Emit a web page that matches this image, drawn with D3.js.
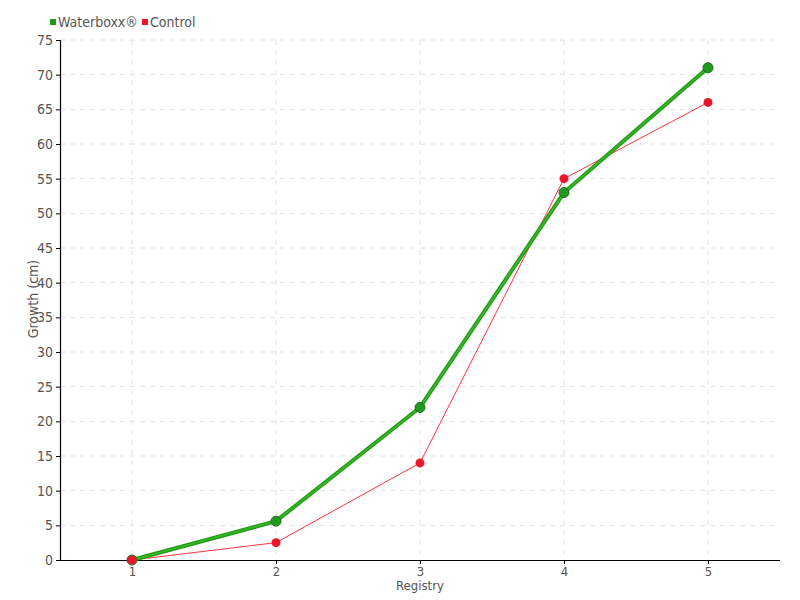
<!DOCTYPE html>
<html><head><meta charset="utf-8">
<script src="https://cdn.jsdelivr.net/npm/d3@7"></script>
<style>body{margin:0;background:#fff}svg text{font-family:"DejaVu Sans Condensed","Liberation Sans Narrow",sans-serif;fill:#555}</style>
</head><body><svg id="c" width="800" height="600"></svg>
<script>
const registry = [1, 2, 3, 4, 5];
const waterboxx = [0, 5.6, 22, 53, 71];
const control = [0, 2.5, 14, 55, 66];
const yTicks = d3.range(0, 80, 5);

const svg = d3.select("#c");
const m = {l: 60, r: 780, t: 40, b: 560};
const x = d3.scaleLinear().domain([0.5, 5.5]).range([m.l, m.r]);
const y = d3.scaleLinear().domain([0, 75]).range([m.b, m.t]);

const g = svg.append("g");
g.selectAll(".hg").data(yTicks.filter(d => d > 0)).enter().append("line")
  .attr("x1", m.l).attr("x2", m.r).attr("y1", d => y(d)).attr("y2", d => y(d))
  .attr("stroke", "#e2e2e2").attr("stroke-dasharray", "5,5");
g.selectAll(".vg").data(registry).enter().append("line")
  .attr("x1", d => x(d)).attr("x2", d => x(d)).attr("y1", m.t).attr("y2", m.b)
  .attr("stroke", "#e2e2e2").attr("stroke-dasharray", "5,5");

const yAxis = d3.axisLeft(y).tickValues(yTicks).tickSize(4).tickPadding(3);
const ya = svg.append("g").attr("transform", `translate(${m.l},0)`).call(yAxis);
const xAxis = d3.axisBottom(x).tickValues(registry).tickSize(4).tickPadding(3).tickFormat(d3.format("d"));
const xa = svg.append("g").attr("transform", `translate(0,${m.b})`).call(xAxis);
[ya, xa].forEach(a => {
  a.select(".domain").attr("stroke", "#000").attr("stroke-width", 1.2);
  a.selectAll(".tick line").attr("stroke", "#000");
  a.selectAll("text").style("font-size", "14px").attr("fill", "#555");
});
xa.selectAll("text").style("font-size", "13px");
xa.select(".domain").attr("d", `M${m.l},0.5H${m.r}`);
ya.select(".domain").attr("d", `M0.5,${m.t}V${m.b}`);

svg.append("text").attr("x", 420).attr("y", 590).attr("text-anchor", "middle")
  .style("font-size", "13px").text("Registry");
svg.append("text").attr("transform", "translate(38,299) rotate(-90)").attr("text-anchor", "middle")
  .style("font-size", "14px").text("Growth (cm)");

const line = d3.line().x((d, i) => x(registry[i])).y(d => y(d));
svg.append("path").datum(control).attr("d", line).attr("fill", "none").attr("stroke", "#ff3344").attr("stroke-width", 1);
svg.append("path").datum(waterboxx).attr("d", line).attr("fill", "none").attr("stroke", "#1f9a12").attr("stroke-width", 4);
svg.append("path").datum(waterboxx).attr("d", line).attr("fill", "none").attr("stroke", "#3cb82c").attr("stroke-width", 1.5);

svg.selectAll(".wp").data(waterboxx).enter().append("circle")
  .attr("cx", (d, i) => x(registry[i])).attr("cy", d => y(d)).attr("r", 5)
  .attr("fill", "#229a22").attr("stroke", "#1b6e1b").attr("stroke-width", 1);
svg.selectAll(".cp").data(control).enter().append("circle")
  .attr("cx", (d, i) => x(registry[i])).attr("cy", d => y(d)).attr("r", 4.5)
  .attr("fill", "#ee1528");

const leg = [{n: "Waterboxx®", c: "#1f9a12", x: 50}, {n: "Control", c: "#ee1528", x: 142}];
leg.forEach(l => {
  svg.append("rect").attr("x", l.x).attr("y", 19).attr("width", 6).attr("height", 6).attr("fill", l.c);
  svg.append("text").attr("x", l.x + 8).attr("y", 27).style("font-size", "14px").text(l.n);
});
</script></body></html>
